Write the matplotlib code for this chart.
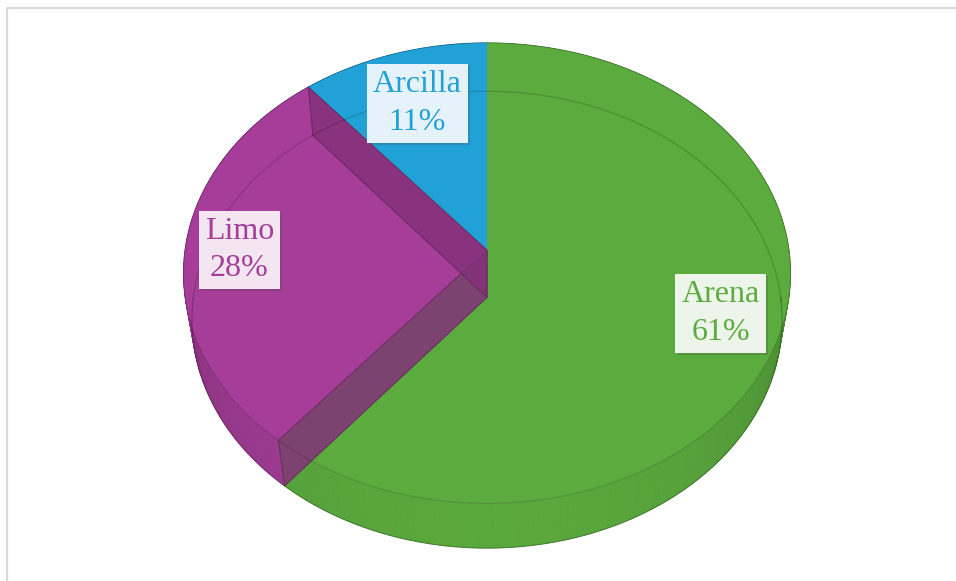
import numpy as np
import matplotlib.pyplot as plt
import matplotlib.patheffects as pe
from matplotlib.colors import to_rgb

# soil texture shares
labels = ["Arena", "Limo", "Arcilla"]
values = [61, 28, 11]
colors = ["#5BAB3E", "#A53D99", "#21A2D6"]
box_colors = ["#EDF4EA", "#F3E6F1", "#E6F2FA"]
label_r = [0.80, 0.82, 0.73]   # radial position of each data label
wall_slices = ["Limo"]          # slice walls seen through the transparent tops

W, H = 956, 581
cx, cy = 487, 250
elev = np.radians(49)
dist = 6.53
F = 302 * dist
depth = 0.246


def proj(theta, r, z):
    x = r * np.cos(theta)
    y = r * np.sin(theta)
    yv = y * np.sin(elev) + z * np.cos(elev)
    d = y * np.cos(elev) - z * np.sin(elev)
    s = F / (dist + d)
    return cx + x * s, cy - yv * s


def shade(c, f):
    return tuple(min(1, max(0, v * f)) for v in to_rgb(c))


fig = plt.figure(figsize=(W / 100, H / 100), dpi=100)
ax = fig.add_axes([0, 0, 1, 1])
ax.set_xlim(0, W)
ax.set_ylim(H, 0)
ax.axis("off")

# chart frame
ax.plot([7, 7, W], [H, 8, 8], color="#D9D9D9", lw=1.6, solid_capstyle="butt")

fr = np.array(values, float) / sum(values)
cum = np.concatenate([[0], np.cumsum(fr)])
t0s = np.pi / 2 - 2 * np.pi * cum[:-1]
t1s = np.pi / 2 - 2 * np.pi * cum[1:]

# outer side, back to front
segs = []
for i in range(len(values)):
    n = max(4, int(abs(t1s[i] - t0s[i]) / np.radians(1)))
    th = np.linspace(t0s[i], t1s[i], n + 1)
    for a, b in zip(th[:-1], th[1:]):
        m = (a + b) / 2
        segs.append((np.sin(m), a, b, i))
segs.sort(key=lambda s: -s[0])
for s, a, b, i in segs:
    xa, ya = proj(a, 1, 0)
    xb, yb = proj(b, 1, 0)
    xc, yc = proj(b, 1, -depth)
    xd, yd = proj(a, 1, -depth)
    f = 0.70 + 0.28 * np.clip(-s, 0, 1) ** 0.6
    c = shade(colors[i], f)
    ax.fill([xa, xb, xc, xd], [ya, yb, yc, yd], color=c, lw=0.6, ec=c)

# top faces
for i in range(len(values)):
    th = np.linspace(t0s[i], t1s[i], 200)
    px, py = proj(th, 1, 0)
    x0, y0 = proj(0, 0, 0)
    ax.fill(np.r_[x0, px], np.r_[y0, py], color=colors[i], lw=0)

# walls seen through the tops
for i, lab in enumerate(labels):
    if lab not in wall_slices:
        continue
    for t in (t0s[i], t1s[i]):
        pts = [proj(t, 0, 0), proj(t, 1, 0), proj(t, 1, -depth), proj(t, 0, -depth)]
        ax.fill([p[0] for p in pts], [p[1] for p in pts],
                color=shade(colors[i], 0.8), alpha=0.85, lw=0.8,
                ec=shade(colors[i], 0.62))

# bottom outline seen through
th = np.linspace(0, 2 * np.pi, 400)
bx, by = proj(th, 1, -depth)
keep = np.sin(th) > -0.02
ax.plot(np.where(keep, bx, np.nan), np.where(keep, by, np.nan),
        color="black", alpha=0.16, lw=0.9)
tx, ty = proj(th, 1, 0)
ax.plot(tx, ty, color="black", alpha=0.15, lw=0.8)
front = np.sin(th) < 0
ax.plot(np.where(front, bx, np.nan), np.where(front, by, np.nan),
        color="black", alpha=0.25, lw=0.8)

# data labels
for i in range(len(values)):
    m = (t0s[i] + t1s[i]) / 2
    lx, ly = proj(m, label_r[i], 0)
    t = ax.text(lx, ly, f"{labels[i]}\n{values[i]}%", ha="center", va="center",
                fontsize=23, family="Liberation Serif", color=colors[i],
                linespacing=1.38,
                bbox=dict(boxstyle="square,pad=0.19", fc=box_colors[i], ec="none"))
    t.get_bbox_patch().set_path_effects(
        [pe.SimplePatchShadow(offset=(1.5, -1.5), alpha=0.25), pe.Normal()])

fig.savefig("out.png", dpi=100)
